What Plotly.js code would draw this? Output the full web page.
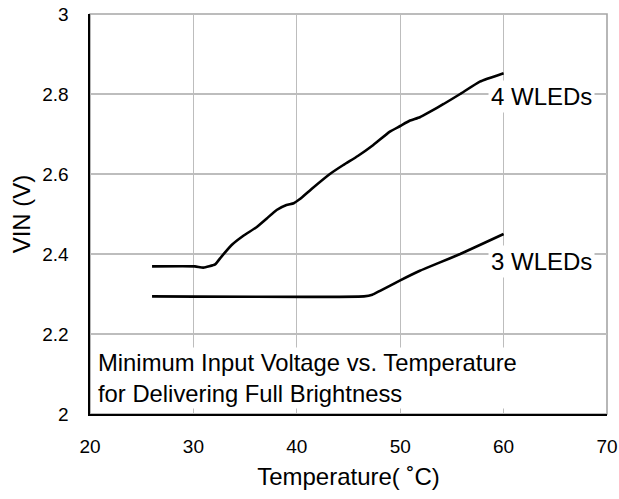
<!DOCTYPE html>
<html>
<head>
<meta charset="utf-8">
<script src="https://cdn.plot.ly/plotly-3.0.1.min.js"></script>
<style>html,body{margin:0;padding:0;background:#fff;}#chart{width:619px;height:499px;}</style>
</head>
<body>
<div id="chart"></div>
<script>
// Temperature (°C) and minimum VIN (V)
const temp4 = [26, 30.15, 30.96, 32.1, 32.7, 33.7, 34.8, 36.1, 37.1, 38.05, 39.0, 39.7, 40.3, 41.4, 43.2, 44.5, 45.9, 47.4, 49.0, 50.0, 50.9, 51.9, 52.9, 54.2, 55.8, 57.7, 60];
const vin4 = [2.369, 2.369, 2.366, 2.374, 2.393, 2.4225, 2.445, 2.467, 2.489, 2.51, 2.5225, 2.527, 2.5375, 2.562, 2.60, 2.6225, 2.645, 2.6725, 2.706, 2.72, 2.733, 2.742, 2.756, 2.775, 2.80, 2.831, 2.852];
const temp3 = [26, 46.5, 47.3, 48.05, 50, 51.9, 53.85, 55.8, 57.7, 60];
const vin3 = [2.294, 2.294, 2.298, 2.308, 2.334, 2.358, 2.379, 2.40, 2.4225, 2.45];
const seriesNames = ["4 WLEDs", "3 WLEDs"];
const xTicks = [20, 30, 40, 50, 60, 70];
const yTicks = [2, 2.2, 2.4, 2.6, 2.8, 3];
const yTickText = ["2", "2.2", "2.4", "2.6", "2.8", "3"];
const noteLines = ["Minimum Input Voltage vs. Temperature", "for Delivering Full Brightness"];

const FONT = "Arial, 'Liberation Sans', sans-serif";
const lineStyle = {color: "#000", width: 2.6, shape: "spline", smoothing: 0.4};

const traces = [
  {x: temp4, y: vin4, name: seriesNames[0], mode: "lines", line: lineStyle, hoverinfo: "skip"},
  {x: temp3, y: vin3, name: seriesNames[1], mode: "lines", line: lineStyle, hoverinfo: "skip"}
];

const layout = {
  width: 619, height: 499,
  margin: {l: 90, r: 12, t: 14, b: 85},
  paper_bgcolor: "#fff", plot_bgcolor: "#fff",
  showlegend: false,
  font: {family: FONT, color: "#000", size: 19},
  xaxis: {
    range: [20, 70], tickmode: "array", tickvals: xTicks,
    showgrid: true, gridcolor: "#bdbdbd", gridwidth: 1.3,
    showline: true, linecolor: "#000", linewidth: 1.6,
    zeroline: false, ticks: "", ticklabelstandoff: 15,
    tickfont: {size: 19, family: FONT, color: "#000"},
    title: {text: "Temperature( ˚C)", font: {size: 24, family: FONT, color: "#000"}, standoff: 12},
    fixedrange: true
  },
  yaxis: {
    range: [2, 3], tickmode: "array", tickvals: yTicks, ticktext: yTickText,
    showgrid: true, gridcolor: "#bdbdbd", gridwidth: 1.3,
    showline: true, linecolor: "#000", linewidth: 1.6,
    zeroline: false, ticks: "", ticklabelstandoff: 16,
    tickfont: {size: 19, family: FONT, color: "#000"},
    title: {text: "VIN (V)", font: {size: 24, family: FONT, color: "#000"}, standoff: 5},
    fixedrange: true
  },
  shapes: [
    {type: "rect", xref: "paper", yref: "paper", x0: 0, x1: 1, y0: 0, y1: 1,
     line: {color: "#a6a6a6", width: 1.6}, fillcolor: "rgba(0,0,0,0)", layer: "below"}
  ],
  annotations: [
    {x: 58.5, y: 2.795, xref: "x", yref: "y", xanchor: "left", yanchor: "middle",
     text: seriesNames[0], showarrow: false, bgcolor: "#fff", borderpad: 2,
     font: {size: 24, family: FONT, color: "#000"}},
    {x: 58.45, y: 2.381, xref: "x", yref: "y", xanchor: "left", yanchor: "middle",
     text: seriesNames[1], showarrow: false, bgcolor: "#fff", borderpad: 2,
     font: {size: 24, family: FONT, color: "#000"}},
    {x: 20.6, y: 2.09, xref: "x", yref: "y", xanchor: "left", yanchor: "middle", align: "left",
     text: noteLines.join("<br>"), showarrow: false, bgcolor: "#fff", borderpad: 1,
     font: {size: 23.8, family: FONT, color: "#000"}}
  ]
};

Plotly.newPlot("chart", traces, layout, {staticPlot: true, displayModeBar: false});
</script>
</body>
</html>
